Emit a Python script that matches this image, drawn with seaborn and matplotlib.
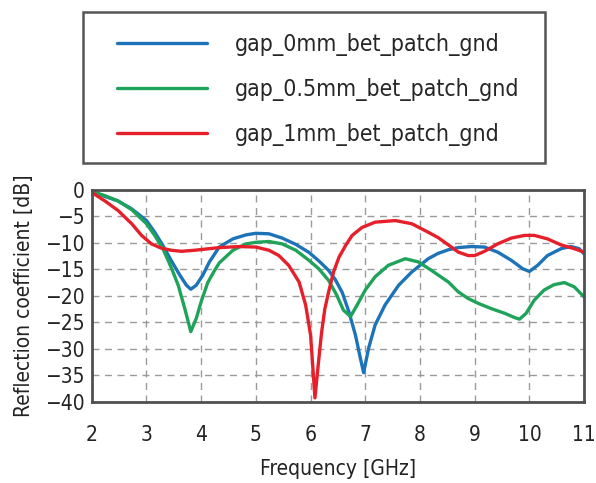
import matplotlib
matplotlib.use('Agg')
from matplotlib import pyplot as plt
from matplotlib.patches import Rectangle
import seaborn as sns
import pandas as pd

# values (GHz, dB)
freq_0mm = [2.0, 2.24, 2.48, 2.73, 3.0, 3.15, 3.3, 3.45, 3.61, 3.73, 3.81, 3.91, 4.03, 4.15,
            4.33, 4.58, 4.82, 5.0, 5.24, 5.48, 5.73, 5.97, 6.15, 6.33, 6.45, 6.58, 6.7, 6.82,
            6.91, 6.97, 7.06, 7.18, 7.36, 7.61, 7.85, 8.15, 8.33, 8.52, 8.7, 8.94, 9.18, 9.42,
            9.67, 9.88, 10.0, 10.15, 10.33, 10.58, 10.76, 10.91, 11.0]
s11_0mm = [-0.3, -1.25, -2.1, -3.6, -5.8, -8.0, -10.5, -13.3, -16.1, -18.0, -18.75, -18.0, -16.1, -13.6,
           -10.8, -9.25, -8.5, -8.2, -8.3, -9.1, -10.3, -11.8, -13.4, -15.2, -16.9, -19.4, -23.0, -27.4,
           -31.75, -34.5, -29.9, -25.5, -21.75, -18.0, -15.5, -13.0, -12.0, -11.3, -10.9, -10.7, -10.8, -11.75,
           -13.3, -14.9, -15.4, -14.25, -12.4, -11.1, -10.7, -11.1, -12.1]

freq_05mm = [2.0, 2.24, 2.48, 2.73, 3.0, 3.15, 3.3, 3.45, 3.58, 3.7, 3.81, 3.91, 4.0, 4.12, 4.24,
             4.33, 4.58, 4.82, 5.0, 5.24, 5.48, 5.73, 5.97, 6.15, 6.33, 6.48, 6.6, 6.73, 6.85,
             7.0, 7.18, 7.42, 7.73, 7.97, 8.21, 8.52, 8.7, 8.88, 9.06, 9.3, 9.55, 9.73, 9.82,
             9.94, 10.09, 10.27, 10.45, 10.64, 10.82, 11.0]
s11_05mm = [-0.3, -1.1, -2.1, -3.75, -6.4, -8.6, -11.1, -14.6, -18.0, -22.4, -26.75, -24.25, -21.1, -17.5, -15.3,
            -13.8, -11.4, -10.2, -9.9, -9.75, -10.2, -11.4, -13.3, -14.9, -17.1, -19.9, -22.7, -23.9, -21.75,
            -18.9, -16.4, -14.25, -13.0, -13.6, -15.2, -17.4, -19.25, -20.5, -21.4, -22.4, -23.3, -24.1, -24.4,
            -23.3, -20.8, -18.9, -17.9, -17.5, -18.3, -20.2]

freq_1mm = [2.0, 2.24, 2.48, 2.73, 2.91, 3.09, 3.27, 3.45, 3.64, 3.88, 4.33, 4.7, 5.0, 5.24,
            5.42, 5.6, 5.79, 5.91, 6.0, 6.08, 6.14, 6.2, 6.26, 6.33, 6.42, 6.52, 6.64, 6.76,
            6.94, 7.18, 7.55, 7.85, 8.15, 8.33, 8.52, 8.7, 8.88, 9.0, 9.18, 9.42, 9.67, 9.91,
            10.09, 10.33, 10.58, 10.82, 11.0]
s11_1mm = [-0.5, -2.1, -3.9, -6.4, -8.6, -10.2, -11.0, -11.4, -11.6, -11.4, -10.9, -10.7, -10.8, -11.4,
           -12.4, -14.25, -17.4, -21.75, -27.4, -39.25, -33.0, -27.0, -22.5, -19.25, -15.5, -12.7, -10.5, -8.6,
           -7.1, -6.1, -5.8, -6.4, -8.0, -9.0, -10.4, -11.75, -12.4, -12.4, -11.6, -10.2, -9.1, -8.6,
           -8.6, -9.25, -10.4, -11.1, -11.75]

labels = ['gap_0mm_bet_patch_gnd', 'gap_0.5mm_bet_patch_gnd', 'gap_1mm_bet_patch_gnd']
colors = ['#1c73b8', '#1fa35a', '#e6202a']

df = pd.concat([
    pd.DataFrame({'f': freq_0mm, 's11': s11_0mm, 'case': labels[0]}),
    pd.DataFrame({'f': freq_05mm, 's11': s11_05mm, 'case': labels[1]}),
    pd.DataFrame({'f': freq_1mm, 's11': s11_1mm, 'case': labels[2]}),
])

sns.set_style('white')
plt.rcParams['font.family'] = ['DejaVu Sans']
plt.rcParams['font.stretch'] = 'condensed'

fig = plt.figure(figsize=(5.96, 4.83), dpi=100)
ax = fig.add_axes([0.154, 0.168, 0.826, 0.439])

sns.lineplot(data=df, x='f', y='s11', hue='case', palette=colors, hue_order=labels,
             linewidth=2.4, sort=False, ax=ax, legend=False)

ax.set_xlim(2, 11)
ax.set_ylim(-40, 0)
ax.set_xticks(range(2, 12))
ax.set_yticks(range(-40, 1, 5))
ax.grid(True, linestyle=(0, (5, 4)), color='#9a9a9a', linewidth=1.0)
for s in ax.spines.values():
    s.set_color('#505050')
    s.set_linewidth(2)
ax.tick_params(axis='both', length=0, labelsize=15, colors='#222222')
ax.tick_params(axis='x', pad=17)
ax.tick_params(axis='y', pad=5)
ax.set_xlabel('Frequency [GHz]', fontsize=15, color='#222222', labelpad=10)
ax.set_ylabel('Reflection coefficient [dB]', fontsize=15, color='#222222', labelpad=8)

# legend box drawn in figure pixels like the reference
fig.add_artist(Rectangle((83 / 596, 1 - 163 / 483), 462 / 596, 151 / 483,
                         transform=fig.transFigure, fill=False,
                         edgecolor='#555555', linewidth=1.8))
handles = [plt.Line2D([], [], color=c, linewidth=2.4) for c in colors]
fig.legend(handles, labels, loc='upper left',
           bbox_to_anchor=(117 / 596, 1 - 33 / 483), fontsize=16.5,
           handlelength=3.93, handletextpad=1.22, labelspacing=0.96,
           borderpad=0, borderaxespad=0, frameon=False)

fig.savefig('out.png', dpi=100)
